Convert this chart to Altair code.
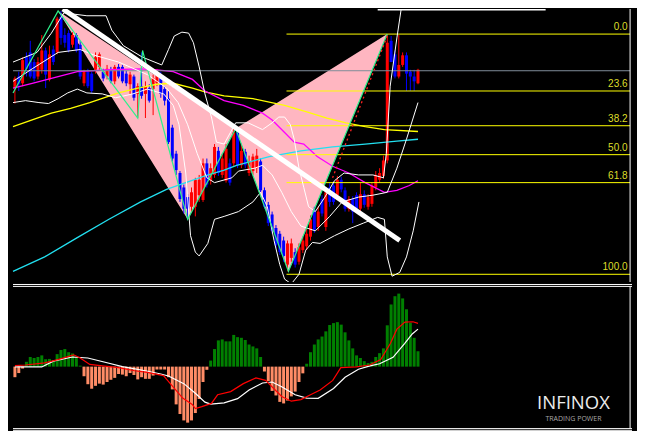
import altair as alt
import pandas as pd

# ---------------- price candles (index 0..105) ----------------
opens = [1218,1230,1223,1250,1255,1245,1230,1237,1257,1227,1258,1255,1292,1273,1275,1263,1273,1263,1223,1235,
         1233,1237,1240,1235,1230,1237,1225,1240,1240,1233,1222,1230,1212,1220,1212,1218,1217,1223,1230,1217,
         1207,1177,1150,1130,1115,1105,1095,1095,1107,1102,1140,1122,1128,1153,1128,1122,1140,1140,1172,1138,
         1152,1130,1132,1135,1142,1112,1097,1087,1073,1067,1060,1035,1042,1048,1038,1050,1054,1064,1092,1074,
         1103,1074,1115,1117,1107,1123,1112,1093,1103,1107,1093,1108,1095,1098,1115,1123,1127,1143,1267,1253,
         1230,1242,1252,1235,1230,1223]
closes = [1228,1222,1247,1238,1230,1228,1245,1257,1232,1253,1245,1290,1270,1265,1257,1273,1257,1230,1235,1220,
          1215,1250,1253,1228,1238,1225,1240,1230,1225,1223,1232,1208,1220,1210,1220,1205,1228,1232,1212,1205,
          1162,1145,1133,1103,1093,1093,1110,1123,1123,1140,1118,1135,1157,1130,1145,1155,1120,1172,1138,1153,
          1138,1142,1147,1148,1112,1095,1078,1070,1055,1048,1044,1057,1057,1035,1053,1060,1067,1082,1071,1090,
          1088,1110,1100,1100,1123,1113,1093,1103,1090,1093,1108,1097,1105,1117,1128,1130,1143,1265,1245,1230,
          1242,1252,1233,1230,1225,1237]
highs = [1230,1235,1250,1255,1267,1248,1250,1273,1260,1262,1262,1292,1298,1280,1278,1276,1275,1267,1237,1238,
         1235,1255,1255,1238,1242,1240,1242,1243,1242,1236,1235,1232,1223,1255,1225,1222,1232,1238,1235,1220,
         1215,1180,1153,1132,1118,1108,1115,1125,1128,1145,1145,1140,1160,1157,1150,1160,1145,1176,1174,1160,
         1155,1148,1150,1155,1145,1115,1100,1090,1076,1070,1064,1060,1062,1052,1057,1064,1072,1086,1095,1095,
         1107,1114,1120,1120,1127,1126,1115,1106,1106,1110,1120,1112,1108,1120,1132,1135,1148,1274,1272,1257,
         1273,1255,1255,1237,1237,1238]
lows = [1202,1215,1220,1230,1228,1225,1227,1233,1218,1225,1242,1253,1263,1260,1255,1260,1255,1227,1220,1218,
        1213,1233,1237,1225,1227,1223,1222,1228,1223,1220,1212,1205,1187,1207,1187,1203,1190,1220,1208,1200,
        1160,1142,1128,1100,1088,1082,1090,1085,1100,1100,1115,1118,1125,1127,1125,1120,1117,1137,1135,1135,
        1135,1127,1128,1130,1110,1093,1075,1067,1052,1045,1038,1028,1038,1032,1035,1047,1050,1060,1068,1070,
        1085,1070,1095,1097,1104,1110,1090,1090,1078,1090,1090,1094,1092,1095,1112,1120,1124,1140,1245,1228,
        1228,1240,1215,1215,1215,1222]

# ---------------- overlays on the price panel ----------------
cyan_i = [-0.5,7.75,16.25,24.5,32.75,39.5,44.5,49.5,54.5,57.75,66.25,74.5,82.75,91.25,99.5,105]
cyan_p = [1028,1043,1063,1082,1100,1113,1120,1127,1133,1138,1147,1153,1157,1160,1163,1165]
yellow_i = [-0.5,4.5,9.5,14.5,19.5,27,32,37,41.25,46.25,49.5,54.5,62,70.25,76.25,81.25,86.25,91.25,96.25,105]
yellow_p = [1178,1185,1192,1197,1203,1213,1218,1222,1223,1218,1214,1210,1207,1200,1193,1187,1182,1178,1175,1173]
magenta_i = [-0.5,4.5,9.5,16.25,24.5,32.75,37,41.25,46.25,49.5,54.5,59.5,64.5,67,70.25,72.75,75.25,78.75,82.75,
             87,91.25,96.25,99.5,102.75,105]
magenta_p = [1218,1223,1228,1235,1237,1238,1237,1235,1227,1215,1205,1200,1192,1185,1172,1162,1160,1147,1137,
             1130,1120,1110,1112,1117,1122]
upper_i = [-0.5,5.75,9.5,12.75,18.75,23.75,25.25,28.25,33.25,38.25,40,41.5,43.5,45.25,46.5,48,49.5,51.25,52.5,
           54.5,57.5,60.75,64.5,67,68.75,70.25,71.75,72.75,74,75.25,76.5,78.25,80.75,83.25,85.75,89.5,93.25,96,
           96.75,97.75,99.5,101]
upper_p = [1245,1255,1275,1296,1293,1293,1278,1262,1250,1242,1258,1272,1276,1275,1265,1240,1212,1187,1162,
           1160,1182,1182,1175,1182,1188,1188,1180,1165,1135,1115,1095,1090,1105,1122,1130,1128,1128,1125,
           1150,1220,1270,1310]
middle_i = [-0.5,4.5,11.25,17,20.75,27,34.5,39.5,42.5,45,47.5,50,52,56.5,58.25,62.5,64.5,67,69.5,72,74.5,78.25,
            82,85.25,89.5,93.25,97,99.5,102,105]
middle_p = [1225,1238,1255,1258,1252,1245,1232,1218,1203,1180,1150,1125,1120,1125,1132,1135,1138,1128,1110,
            1090,1075,1070,1085,1100,1105,1107,1110,1135,1165,1203]
lower_i = [-0.5,2.75,6.25,8.75,11.25,13.75,16.25,18.75,22.75,26.25,30.75,34.5,38.75,41.25,42.75,44.5,45.75,47,
           48,50.25,52,54.5,58.25,62,64,65.75,67.5,69,70.25,72,74,75.75,77.5,79.5,83.25,87,90.75,94.5,96.25,97,
           98.25,100.25,102,103.75,105.25]
lower_p = [1203,1205,1203,1202,1207,1213,1217,1213,1212,1208,1212,1217,1212,1200,1180,1130,1065,1048,1044,1057,
           1082,1085,1090,1100,1110,1095,1060,1035,1020,1015,1025,1050,1058,1057,1065,1072,1078,1084,1082,1043,
           1023,1027,1043,1070,1100]
zig_i = [-0.5,11.25,32,33.25,45,57.5,71.25,97]
zig_p = [1213,1298,1187,1257,1082,1176,1028,1274]
pat_i = [11.25,45,57.5,71.25,97]          # X A B C D
pat_p = [1298,1082,1176,1028,1274]
trend_i = [12.5,100.25]
trend_p = [1300,1060]
reddot_i = [82.75,97]
reddot_p = [1125,1272]
current_price = 1236
fib_labels = ["0.0","23.6","38.2","50.0","61.8","100.0"]
fib_prices = [1274,1215,1179,1149,1120,1025]

# ---------------- MACD panel ----------------
hist = [-1.1,-0.67,-0.2,0.5,1.0,0.9,1.0,1.17,0.77,0.8,0.67,1.3,1.73,1.83,1.5,1.37,1.0,0.1,-1.0,-1.83,
        -2.3,-2.0,-1.77,-1.87,-1.6,-1.37,-1.17,-0.77,-0.83,-1.0,-0.67,-0.87,-1.33,-1.1,-1.27,-1.27,-0.93,-0.3,-0.3,-0.3,
        -1.1,-2.37,-3.93,-4.93,-5.6,-5.83,-5.6,-4.83,-3.37,-1.6,-0.33,0.63,1.83,2.73,2.83,2.63,2.63,3.3,3.07,3.0,
        2.77,2.3,2.1,1.9,1.0,-0.5,-1.5,-2.53,-3.0,-3.67,-3.83,-3.53,-3.1,-2.6,-1.6,-0.7,0.3,1.5,2.3,2.83,
        3.13,3.67,4.33,4.53,4.63,4.37,3.57,2.73,1.9,1.17,0.9,0.57,0.37,0.5,1.0,1.4,1.9,4.3,6.47,7.33,
        7.6,7.1,5.97,4.57,3.0,1.6]
white_i = [0,7,10,15,19,24,28,34,38,40,44,47,49.5,51,54.5,58,61,64.5,67,69.5,73,76,79,83,86,89.5,92.5,95,98.5,
           101.5,103.5,105]
white_v = [-0.03,-0.03,0.57,1.0,0.9,0.4,0.0,-0.43,-0.77,-0.97,-1.77,-2.77,-3.7,-3.9,-3.77,-3.33,-2.43,-1.7,-1.6,
           -2.1,-2.93,-3.27,-3.3,-2.27,-1.1,-0.27,0.07,0.3,0.97,2.4,3.4,3.9]
red_i = [0,2.8,7.8,11.2,15.3,17,19.5,22.8,27,31.2,34.5,38.7,41.2,43.7,46.2,47,48.7,51.2,52.8,56.2,59.5,62.8,65.3,
         67.8,69.5,72,74.5,77,79.5,82.8,84.9,89,92.4,95.3,97.8,99.5,101.6,103.7,105]
red_v = [0.1,0.17,0.4,0.73,1.23,0.9,0.23,0.07,-0.1,-0.43,-0.6,-0.93,-2.1,-3.27,-3.93,-4.37,-4.17,-3.83,-2.93,-2.6,
         -1.77,-1.17,-1.43,-2.43,-3.1,-3.6,-3.43,-2.93,-2.43,-1.43,-0.1,-0.03,0.17,0.73,2.4,3.9,4.63,4.67,4.5]

# ---------------- scales & sizes ----------------
W, H1, H2 = 629, 273, 147
XMIN, XMAX = -0.5, 160.75
XR = 160.25
XS = alt.Scale(domain=[XMIN, XMAX], nice=False, zero=False)
YP = alt.Scale(domain=[1017, 1300], nice=False, zero=False)
YM = alt.Scale(domain=[-6.7, 8.6], nice=False, zero=False)


def xq(f="i"):
    return alt.X(f"{f}:Q", scale=XS, axis=None)


def yp(f="p"):
    return alt.Y(f"{f}:Q", scale=YP, axis=None)


def ym(f="v"):
    return alt.Y(f"{f}:Q", scale=YM, axis=None)


def pline(xs, ys, color, width=1.0, dash=None):
    kw = dict(color=color, strokeWidth=width, clip=True, interpolate="linear")
    if dash:
        kw["strokeDash"] = dash
    return alt.Chart(pd.DataFrame({"i": xs, "p": ys})).mark_line(**kw).encode(x=xq(), y=yp())


def mline(xs, ys, color, width=1.0):
    return alt.Chart(pd.DataFrame({"i": xs, "v": ys})).mark_line(
        color=color, strokeWidth=width, clip=True).encode(x=xq(), y=ym())


def interp(x, x0, y0, x1, y1):
    return y0 + (y1 - y0) * (x - x0) / (x1 - x0)


# pink harmonic triangles XAB and BCD
tri_rows = []
for t, (a, b, c) in enumerate([(0, 1, 2), (2, 3, 4)]):
    tri_rows.append({"t": t, "i": pat_i[a], "p": pat_p[a], "p2": pat_p[a]})
    tri_rows.append({"t": t, "i": pat_i[b], "p": pat_p[b],
                     "p2": interp(pat_i[b], pat_i[a], pat_p[a], pat_i[c], pat_p[c])})
    tri_rows.append({"t": t, "i": pat_i[c], "p": pat_p[c], "p2": pat_p[c]})
tri = alt.Chart(pd.DataFrame(tri_rows)).mark_area(color="#ffb6c1", opacity=1, interpolate="linear").encode(
    x=xq(), y=yp(), y2="p2:Q", detail="t:N")

candles = pd.DataFrame({"i": list(range(len(opens))), "o": opens, "c": closes, "h": highs, "l": lows})
ccol = alt.condition("datum.c >= datum.o", alt.value("#ff0000"), alt.value("#0000ff"))
wicks = alt.Chart(candles).mark_rule(strokeWidth=1).encode(x=xq(), y=yp("l"), y2="h:Q", color=ccol)
bodies = alt.Chart(candles).mark_bar(size=3).encode(x=xq(), y=yp("o"), y2="c:Q", color=ccol)

gray = alt.Chart(pd.DataFrame({"i": [XMIN], "i2": [XR], "p": [current_price]})).mark_rule(
    color="#7f8c99", strokeWidth=1).encode(x=xq(), x2="i2:Q", y=yp())

fib_df = pd.DataFrame({"i": [70.75] * 6, "i2": [XR] * 6, "p": fib_prices, "lab": fib_labels,
                       "ti": [159.6] * 6})
fib_lines = alt.Chart(fib_df).mark_rule(color="#ffff00", strokeWidth=1).encode(x=xq(), x2="i2:Q", y=yp())
fib_text = alt.Chart(fib_df).mark_text(align="right", baseline="bottom", dy=-2, color="#dede2a",
                                       font="Liberation Sans", fontSize=10).encode(
    x=xq("ti"), y=yp(), text="lab:N")

frame_top = alt.Chart(pd.DataFrame({"i": [XR], "p": [1017], "p2": [1300]})).mark_rule(
    color="#ffffff", strokeWidth=1).encode(x=xq(), y=yp(), y2="p2:Q")
topline = alt.Chart(pd.DataFrame({"i": [94.5], "i2": [138.25], "p": [1299.3]})).mark_rule(
    color="#ffffff", strokeWidth=1.5).encode(x=xq(), x2="i2:Q", y=yp())

top = alt.layer(
    tri,
    bodies, wicks,
    pline(cyan_i, cyan_p, "#22e0f0", 1.3),
    pline(yellow_i, yellow_p, "#ffff00", 1.3),
    pline(magenta_i, magenta_p, "#ff00ff", 1.3),
    gray,
    fib_lines,
    pline(upper_i, upper_p, "#ffffff", 1),
    pline(middle_i, middle_p, "#ffffff", 1),
    pline(lower_i, lower_p, "#ffffff", 1),
    pline(zig_i, zig_p, "#2ef08c", 1.2),
    pline(reddot_i, reddot_p, "#ff2020", 1.3, [2, 3]),
    pline(trend_i, trend_p, "#ffffff", 5),
    fib_text,
    frame_top, topline,
).properties(width=W, height=H1)

# ---------------- MACD panel ----------------
hdf = pd.DataFrame({"i": list(range(len(hist))), "v": hist, "z": [0.0] * len(hist)})
bars = alt.Chart(hdf).mark_bar(size=3).encode(
    x=xq(), y=ym(), y2="z:Q",
    color=alt.condition("datum.v >= 0", alt.value("#008000"), alt.value("#ff8c66")))

sep_df = pd.DataFrame({"i": [XMIN] * 4, "i2": [XMAX] * 4, "v": [8.55, 8.35, -6.45, -6.63]})
seps = alt.Chart(sep_df).mark_rule(color="#ffffff", strokeWidth=1).encode(x=xq(), x2="i2:Q", y=ym())
frame_bot = alt.Chart(pd.DataFrame({"i": [XR], "v": [8.35], "v2": [-6.45]})).mark_rule(
    color="#ffffff", strokeWidth=1).encode(x=xq(), y=ym(), y2="v2:Q")

logo_df = pd.DataFrame({"i": [145.5], "v": [-3.75], "t": ["INFINOX"]})
logo = alt.Chart(logo_df).mark_text(color="#ececec", font="Open Sans", fontSize=18.5, fontWeight=400,
                                    baseline="middle", align="center").encode(x=xq(), y=ym(), text="t:N")
sub_df = pd.DataFrame({"i": [145.5], "v": [-5.45], "t": ["TRADING POWER"]})
sub = alt.Chart(sub_df).mark_text(color="#a8a8a8", font="Open Sans", fontSize=7,
                                  baseline="middle", align="center").encode(x=xq(), y=ym(), text="t:N")

bottom = alt.layer(
    bars,
    mline(white_i, white_v, "#ffffff", 1.2),
    mline(red_i, red_v, "#ff0000", 1.2),
    seps, frame_bot, logo, sub,
).properties(width=W, height=H2)

chart = alt.vconcat(top, bottom, spacing=0).properties(
    background="black", padding=0).configure_view(stroke=None)

chart.save("out.html", embed_options={"renderer": "svg", "actions": False})
